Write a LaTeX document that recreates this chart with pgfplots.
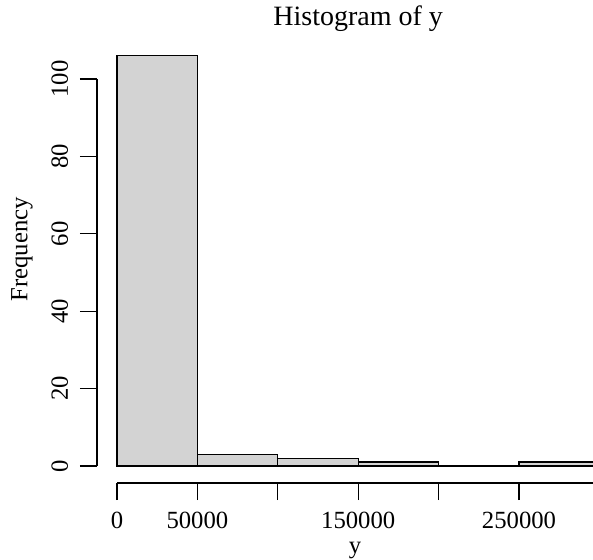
\documentclass[border=0pt]{standalone}
\usepackage{fontspec}
\setmainfont{Liberation Serif}
\usepackage{pgfplots}
\pgfplotsset{compat=1.18}
\usetikzlibrary{calc}
\definecolor{barfill}{RGB}{211,211,211}
\begin{document}
\begin{tikzpicture}
\begin{axis}[
  scale only axis, width=476pt, height=433.4pt,
  xmin=0, xmax=296000, ymin=0, ymax=112,
  clip=false,
  scaled x ticks=false, scaled y ticks=false,
  axis x line*=bottom, axis y line*=left,
  axis x line shift=17pt, axis y line shift=20pt,
  y axis line style={draw=none},
  x axis line style={-, line width=1.3pt},
  xtick={0,50000,100000,150000,200000,250000,300000},
  xticklabels={0,50000,,150000,,250000,},
  ytick={0,20,40,60,80,100},
  tick align=outside, major tick length=17pt,
  tick style={black, line width=1.3pt},
  /pgf/number format/assume math mode=true,
  tick label style={font=\fontsize{24.7}{28}\selectfont},
  xticklabel style={anchor=base, yshift=-28pt},
  yticklabel style={rotate=90, anchor=base},
  yticklabel shift=12pt,
  label style={font=\fontsize{24.7}{28}\selectfont},
  xlabel style={yshift=-7pt},
  ylabel style={yshift=12pt},
  title style={font=\fontsize{28}{32}\selectfont, at={(rel axis cs:0.5068,1)}, anchor=base, yshift=1pt},
  title={Histogram of y},
  xlabel={y},
  ylabel={Frequency},
]
\addplot[ybar interval, fill=barfill, draw=black, line width=1.3pt]
  coordinates {(0,106) (50000,3) (100000,2) (150000,1) (200000,0) (250000,1) (300000,1)};
\draw[line width=1.3pt] ($(axis cs:0,0)+(-20pt,0)$) -- ($(axis cs:0,100)+(-20pt,0)$);
\coordinate (O) at (rel axis cs:0,0);
\coordinate (T) at (rel axis cs:1,1);
\end{axis}
\pgfresetboundingbox
\path[use as bounding box] ($(O)+(-117pt,-93pt)$) rectangle ($(T)+(0,32.6pt)$);
\end{tikzpicture}
\end{document}
